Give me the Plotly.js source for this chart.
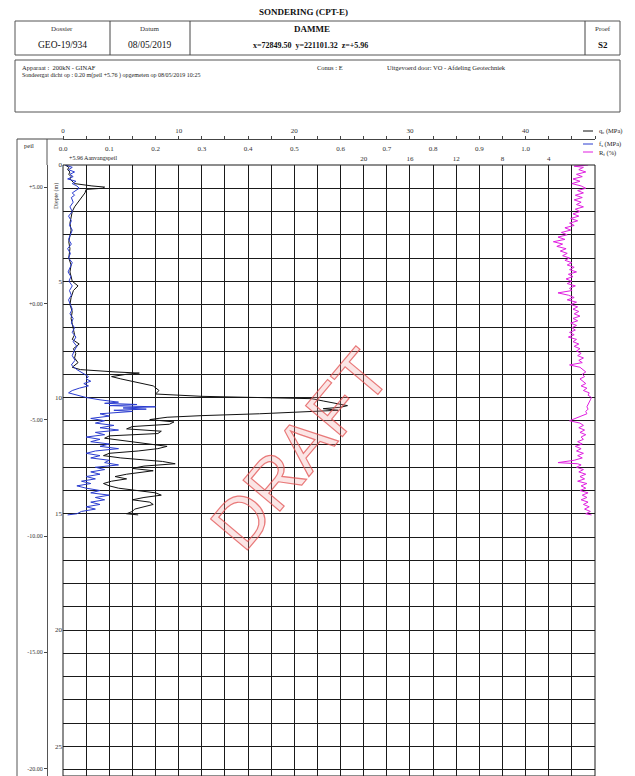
<!DOCTYPE html>
<html><head><meta charset="utf-8">
<script src="https://cdn.plot.ly/plotly-3.0.1.min.js"></script>
<style>html,body{margin:0;padding:0;background:#fff}#chart{width:635px;height:776px}</style>
</head><body><div id="chart"></div>
<script>
// ---- data ----
const qcDepth = [0.0,0.1,0.2,0.3,0.4,0.5,0.6,0.7,0.8,0.9,0.95,1.0,1.05,1.2,1.4,1.6,1.8,2.0,2.2,2.5,2.8,3.0,3.3,3.6,4.0,4.3,4.6,5.0,5.2,5.4,5.7,6.0,6.3,6.6,7.0,7.3,7.5,7.7,7.9,8.1,8.3,8.5,8.7,8.8,8.9,8.95,9.0,9.1,9.2,9.35,9.5,9.7,9.85,9.95,10.0,10.05,10.15,10.25,10.35,10.42,10.48,10.55,10.62,10.7,10.78,10.85,10.95,11.05,11.15,11.25,11.35,11.45,11.55,11.65,11.75,11.85,12.0,12.1,12.2,12.3,12.4,12.5,12.6,12.75,12.85,12.95,13.05,13.15,13.3,13.4,13.5,13.6,13.7,13.8,13.9,14.0,14.1,14.2,14.3,14.4,14.5,14.6,14.7,14.8,14.9,15.0,15.05];
const qcValues = [0.2,0.5,0.4,0.6,0.5,0.7,0.6,0.8,1.0,2.5,3.6,3.4,2.0,1.9,1.6,1.3,1.0,0.8,0.7,0.6,0.7,0.6,0.5,0.6,0.5,0.7,0.6,0.8,1.3,0.9,0.7,0.6,0.8,0.7,0.9,1.0,0.8,1.4,0.9,1.1,1.0,1.3,0.8,1.5,4.5,6.6,5.5,4.2,5.0,6.5,7.8,8.3,8.0,12.0,19.0,21.5,22.5,23.5,24.6,24.0,22.5,23.8,21.0,17.0,12.0,9.0,7.5,9.6,9.2,6.0,5.5,8.5,8.2,4.0,3.6,5.2,7.5,9.0,8.2,6.5,4.0,3.5,5.0,8.6,9.7,7.0,6.0,7.8,5.5,4.5,5.5,4.2,3.5,4.0,4.8,6.5,8.0,8.5,7.0,6.0,7.5,7.8,7.0,6.2,6.0,5.5,6.5];

const fsDepth = [0.0,0.1,0.2,0.3,0.4,0.5,0.6,0.7,0.8,0.9,1.0,1.1,1.2,1.3,1.4,1.6,1.8,2.0,2.2,2.4,2.6,2.8,3.0,3.2,3.4,3.6,3.8,4.0,4.2,4.4,4.6,4.8,5.0,5.2,5.4,5.6,5.8,6.0,6.2,6.4,6.6,6.8,7.0,7.2,7.4,7.6,7.8,8.0,8.2,8.4,8.6,8.8,9.0,9.1,9.2,9.3,9.4,9.5,9.6,9.7,9.8,9.9,10.0,10.1,10.2,10.25,10.3,10.35,10.4,10.45,10.5,10.55,10.6,10.7,10.8,10.9,11.0,11.1,11.2,11.3,11.4,11.5,11.6,11.7,11.8,11.9,12.0,12.1,12.2,12.3,12.4,12.5,12.6,12.7,12.8,12.9,13.0,13.1,13.2,13.3,13.4,13.5,13.6,13.7,13.8,13.9,14.0,14.1,14.2,14.3,14.4,14.5,14.6,14.7,14.8,14.9,15.0,15.05];
const fsValues = [0.005,0.02,0.012,0.025,0.015,0.022,0.01,0.028,0.02,0.03,0.035,0.028,0.02,0.025,0.018,0.022,0.015,0.02,0.012,0.018,0.014,0.02,0.016,0.012,0.018,0.01,0.016,0.012,0.02,0.015,0.011,0.017,0.013,0.02,0.014,0.018,0.012,0.016,0.02,0.015,0.022,0.018,0.025,0.02,0.028,0.022,0.03,0.024,0.02,0.026,0.018,0.03,0.045,0.055,0.05,0.06,0.045,0.055,0.035,0.02,0.012,0.03,0.05,0.08,0.12,0.09,0.16,0.1,0.2,0.13,0.18,0.11,0.15,0.08,0.1,0.06,0.09,0.07,0.11,0.08,0.12,0.07,0.09,0.05,0.08,0.06,0.1,0.08,0.12,0.07,0.05,0.08,0.06,0.1,0.09,0.12,0.07,0.09,0.06,0.08,0.05,0.07,0.04,0.06,0.03,0.05,0.08,0.06,0.1,0.07,0.09,0.06,0.08,0.05,0.07,0.04,0.03,0.01];

const rfDepth = [0.0,0.05,0.1,0.2,0.3,0.4,0.5,0.6,0.7,0.8,0.9,1.0,1.1,1.2,1.3,1.4,1.5,1.6,1.7,1.8,1.9,2.0,2.1,2.2,2.3,2.4,2.5,2.6,2.7,2.8,2.9,3.0,3.1,3.2,3.3,3.4,3.5,3.6,3.7,3.8,3.9,4.0,4.1,4.2,4.3,4.4,4.5,4.6,4.7,4.8,4.9,5.0,5.1,5.2,5.3,5.4,5.5,5.6,5.7,5.8,5.9,6.0,6.1,6.2,6.3,6.4,6.5,6.6,6.7,6.8,6.9,7.0,7.1,7.2,7.3,7.4,7.5,7.6,7.7,7.8,7.9,8.0,8.1,8.2,8.3,8.4,8.5,8.6,8.7,8.8,8.9,9.0,9.1,9.2,9.3,9.4,9.5,9.6,9.7,9.8,9.9,10.0,10.1,10.2,10.3,10.4,10.5,10.6,10.7,10.8,10.9,11.0,11.1,11.2,11.3,11.4,11.5,11.6,11.7,11.8,11.9,12.0,12.1,12.2,12.3,12.4,12.5,12.6,12.7,12.8,12.85,12.9,13.0,13.1,13.2,13.3,13.4,13.5,13.6,13.7,13.8,13.9,14.0,14.1,14.2,14.3,14.4,14.5,14.6,14.7,14.8,14.9,15.0,15.05];
const rfValues = [0.6,1.8,1.0,1.4,0.8,1.6,1.1,1.9,1.3,2.0,1.2,0.8,1.5,1.0,1.7,1.1,1.8,1.2,1.6,1.0,1.7,1.3,1.9,1.4,2.1,1.5,2.2,1.8,2.6,2.1,2.9,2.4,3.2,2.6,3.6,2.8,3.3,2.5,3.0,2.4,2.8,2.2,2.6,2.0,2.4,1.8,2.2,1.6,2.3,1.9,2.5,2.0,2.4,1.7,2.2,2.0,3.2,2.3,1.8,2.4,1.6,2.1,1.5,1.9,1.4,1.8,1.3,1.9,1.5,2.1,1.6,2.0,1.7,2.2,1.8,2.3,1.6,1.9,1.4,1.8,1.3,1.6,1.2,1.5,1.0,1.4,1.1,2.2,1.3,1.0,0.8,1.1,0.9,1.3,1.0,0.8,1.2,0.7,1.0,0.5,0.6,0.3,0.4,0.5,0.6,0.7,0.6,0.8,0.7,1.2,1.6,2.2,1.3,1.0,1.4,0.9,1.3,0.8,1.2,1.0,1.5,1.1,1.7,1.2,1.6,1.0,1.5,1.1,1.8,3.2,1.5,1.2,1.6,1.0,1.4,0.8,1.3,0.9,1.5,0.7,1.2,0.8,1.3,0.6,1.1,0.7,1.2,0.6,1.0,0.5,0.9,0.4,0.8,0.3];

// tick labels
const qcTickLabels = ['0','10','20','30','40'];
const fsTickLabels = ['0.0','0.1','0.2','0.3','0.4','0.5','0.6','0.7','0.8','0.9','1.0'];
const rfTickLabels = ['4','8','12','16','20'];
const depthTickLabels = ['0','5','10','15','20','25'];
const peilTickLabels = ['+5.00','+0.00','-5.00','-10.00','-15.00','-20.00'];
const startLevel = 5.96;

// ---- geometry helpers (page pixels -> paper) ----
const W = 635, H = 776;
const px = v => v / W, py = v => 1 - v / H;
const X0 = 63, X1 = 595, Y0 = 165;
const depthMax = (H - Y0) / 23.25;

const qcTickVals = [], qcTickText = [];
for (let v = 0; v <= 46; v += 2) { qcTickVals.push(v); qcTickText.push(v % 10 === 0 ? qcTickLabels[v / 10] : ''); }
const depthTickVals = [], depthTickText = [];
for (let d = 0; d <= 26; d++) { depthTickVals.push(d); depthTickText.push(d % 5 === 0 ? depthTickLabels[d / 5] : ''); }
const fsTickVals = fsTickLabels.map(Number);
const rfTickVals = rfTickLabels.map(Number);
// elevation labels placed on the depth scale
const peilTickVals = peilTickLabels.map(s => startLevel - Number(s));

const serif = 'Liberation Serif, Times New Roman, serif';
const gridCol = '#1a1a1a';

const traces = [
  {x: qcValues, y: qcDepth, xaxis: 'x', yaxis: 'y', type: 'scatter', mode: 'lines', line: {color: '#111', width: 1}, hoverinfo: 'skip'},
  {x: fsValues, y: fsDepth, xaxis: 'x3', yaxis: 'y2', type: 'scatter', mode: 'lines', line: {color: '#2a3cd0', width: 1}, hoverinfo: 'skip'},
  {x: rfValues, y: rfDepth, xaxis: 'x4', yaxis: 'y2', type: 'scatter', mode: 'lines', line: {color: '#e01ee0', width: 1}, hoverinfo: 'skip'}
];

const ann = (x, y, text, opt) => Object.assign({xref: 'paper', yref: 'paper', x: px(x), y: py(y), text: text, showarrow: false, xanchor: 'center', yanchor: 'middle', font: {family: serif, size: 8, color: '#222'}}, opt || {});
const line = (x0, y0, x1, y1, c, w) => ({type: 'line', xref: 'paper', yref: 'paper', x0: px(x0), y0: py(y0), x1: px(x1), y1: py(y1), line: {color: c || '#444', width: w || 1}});

const layout = {
  width: W, height: H,
  margin: {l: 0, r: 0, t: 0, b: 0},
  paper_bgcolor: '#fff', plot_bgcolor: '#fff',
  showlegend: false,
  font: {family: serif, size: 8, color: '#222'},
  // qc scale on top line, also drives the vertical grid
  xaxis: {domain: [px(X0), px(X1)], anchor: 'free', position: py(139), side: 'top', range: [0, 46], tickmode: 'array', tickvals: qcTickVals, ticktext: qcTickText, ticks: 'outside', ticklen: 3, tickcolor: '#444', showline: true, linecolor: '#444', linewidth: 1, showgrid: true, gridcolor: gridCol, gridwidth: 1, zeroline: false, tickfont: {size: 7, color: '#333'}},
  xaxis3: {overlaying: 'x', anchor: 'free', position: py(152), side: 'top', range: [0, 1.15], tickmode: 'array', tickvals: fsTickVals, ticktext: fsTickLabels, ticks: '', showline: false, showgrid: false, zeroline: false, tickfont: {size: 7, color: '#333'}},
  xaxis4: {overlaying: 'x', anchor: 'free', position: py(162), side: 'top', range: [46, 0], tickmode: 'array', tickvals: rfTickVals, ticktext: rfTickLabels, ticks: '', showline: false, showgrid: false, zeroline: false, tickfont: {size: 7, color: '#333'}},
  // elevation (peil) scale on the outer left line
  yaxis: {domain: [0, py(Y0)], anchor: 'free', position: px(47), side: 'left', range: [depthMax, 0], tickmode: 'array', tickvals: peilTickVals, ticktext: peilTickLabels, ticks: 'outside', ticklen: 3, tickcolor: '#444', showline: true, linecolor: '#555', linewidth: 1, showgrid: false, zeroline: false, tickfont: {size: 6, color: '#333'}},
  // depth scale next to the grid, drives the horizontal grid
  yaxis2: {overlaying: 'y', anchor: 'x', side: 'left', range: [depthMax, 0], tickmode: 'array', tickvals: depthTickVals, ticktext: depthTickText, ticks: '', showgrid: true, gridcolor: gridCol, gridwidth: 1, zeroline: false, tickfont: {size: 7, color: '#333'}},
  shapes: [
    // header boxes
    {type: 'rect', xref: 'paper', yref: 'paper', x0: px(15), y0: py(21), x1: px(620), y1: py(55), line: {color: '#555', width: 1}},
    line(110, 21, 110, 55), line(190, 21, 190, 55), line(585, 21, 585, 55),
    {type: 'rect', xref: 'paper', yref: 'paper', x0: px(15), y0: py(60), x1: px(620), y1: py(112), line: {color: '#555', width: 1}},
    // left frame
    line(17, 139, 17, 776, '#555'), line(47, 139, 47, 165, '#555'), line(17, 139, 63, 139, '#444'),
    // plot frame
    {type: 'rect', xref: 'paper', yref: 'paper', x0: px(X0), y0: 0, x1: px(X1), y1: py(Y0), line: {color: gridCol, width: 1}},
    // legend keys
    line(583, 131, 593, 131, '#111'), line(583, 144, 593, 144, '#2a3cd0'), line(583, 152, 593, 152, '#e01ee0')
  ],
  annotations: [
    ann(303, 12, '<b>SONDERING (CPT-E)</b>', {font: {family: serif, size: 9, color: '#111'}}),
    ann(62, 29, 'Dossier', {font: {family: serif, size: 7, color: '#333'}}),
    ann(62, 45, 'GEO-19/934', {font: {family: serif, size: 9.5, color: '#111'}}),
    ann(150, 29, 'Datum', {font: {family: serif, size: 7, color: '#333'}}),
    ann(150, 45, '08/05/2019', {font: {family: serif, size: 9.5, color: '#111'}}),
    ann(312, 29, '<b>DAMME</b>', {font: {family: serif, size: 9, color: '#111'}}),
    ann(310, 45, '<b>x=72849.50  y=221101.32  z=+5.96</b>', {font: {family: serif, size: 8, color: '#111'}}),
    ann(603, 29, 'Proef', {font: {family: serif, size: 7, color: '#333'}}),
    ann(603, 45, '<b>S2</b>', {font: {family: serif, size: 9, color: '#111'}}),
    ann(20, 67, 'Apparaat :  200kN - GINAF', {xanchor: 'left', font: {family: serif, size: 6.5, color: '#222'}}),
    ann(345, 67, 'Conus : E', {xanchor: 'right', font: {family: serif, size: 6.5, color: '#222'}}),
    ann(385, 67, 'Uitgevoerd door: VO - Afdeling Geotechniek', {xanchor: 'left', font: {family: serif, size: 6.5, color: '#222'}}),
    ann(20, 76, 'Sondeergat dicht op : 0.20 m(peil +5.76 ) opgemeten op 08/05/2019 10:25', {xanchor: 'left', font: {family: serif, size: 6, color: '#222'}}),
    ann(22, 145, 'peil', {xanchor: 'left', font: {family: serif, size: 6.5, color: '#222'}}),
    ann(67, 158, '+5.96 Aanvangspeil', {xanchor: 'left', font: {family: serif, size: 6, color: '#222'}}),
    ann(56, 196, 'Diepte (m)', {textangle: -90, font: {family: serif, size: 6, color: '#333'}}),
    ann(597, 131, 'q<sub>c</sub> (MPa)', {xanchor: 'left', font: {family: serif, size: 6.5, color: '#222'}}),
    ann(597, 144, 'f<sub>s</sub> (MPa)', {xanchor: 'left', font: {family: serif, size: 6.5, color: '#222'}}),
    ann(597, 153, 'R<sub>f</sub> (%)', {xanchor: 'left', font: {family: serif, size: 6.5, color: '#222'}}),
    ann(300, 450, 'DRAFT', {textangle: -50, font: {family: 'Liberation Sans, Arial, sans-serif', size: 70, color: 'rgba(240,150,150,0.25)'}})
  ]
};

Plotly.newPlot('chart', traces, layout, {displayModeBar: false, staticPlot: true}).then(function () {
  document.querySelectorAll('.annotation-text').forEach(function (t) {
    if (t.textContent === 'DRAFT') {
      t.style.stroke = 'rgba(225,80,80,0.75)';
      t.style.strokeWidth = '1.2px';
    }
  });
});
</script></body></html>
